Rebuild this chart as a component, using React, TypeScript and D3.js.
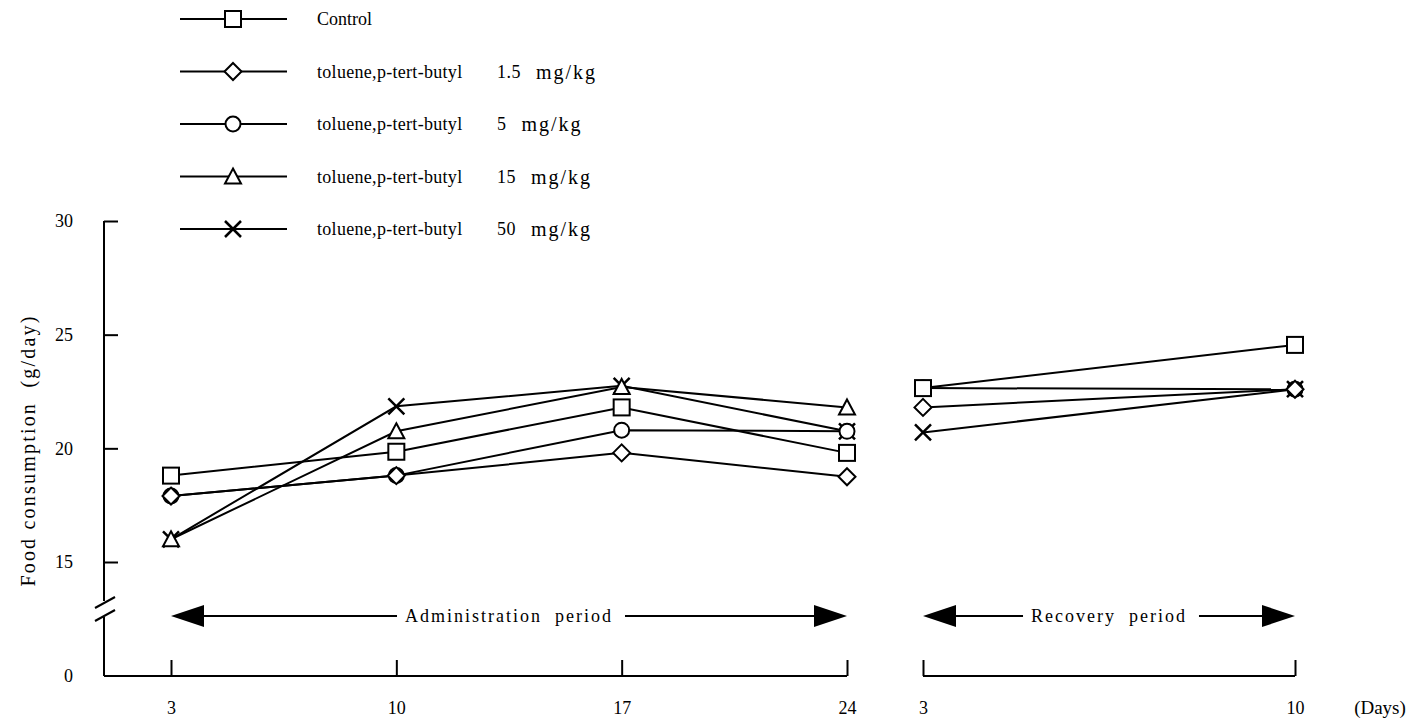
import * as d3 from "d3";
import { useEffect, useRef } from "react";

// days of each period
const adminDays = [3, 10, 17, 24];
const recoveryDays = [3, 10];
const yTicks = [15, 20, 25, 30];

// food consumption (g/day)
const controlAdmin = [18.8, 19.85, 21.8, 19.8];
const dose15Admin = [17.9, 18.8, 19.8, 18.75];
const dose5Admin = [17.9, 18.8, 20.8, 20.75];
const dose15mgAdmin = [16.0, 20.75, 22.7, 21.8];
const dose50Admin = [16.0, 21.85, 22.75, 20.75];

const controlRecovery = [22.65, 24.55];
const dose15Recovery = [21.8, 22.6];
const dose5Recovery = [22.65, 22.6];
const dose50Recovery = [20.7, 22.6];

const groupNames = ["Control", "toluene,p-tert-butyl", "toluene,p-tert-butyl", "toluene,p-tert-butyl", "toluene,p-tert-butyl"];
const groupDoses = ["", "1.5", "5", "15", "50"];
const groupSymbols = ["square", "diamond", "circle", "triangle", "cross"];

const W = 1413;
const H = 728;
const FONT = "'Liberation Serif', 'Times New Roman', serif";

function drawSymbol(g: any, type: string, cx: number, cy: number) {
  const s = g.append("g").attr("transform", `translate(${cx},${cy})`)
    .attr("fill", "#fff").attr("stroke", "#000").attr("stroke-width", 2);
  if (type === "square") {
    s.append("rect").attr("x", -8).attr("y", -8).attr("width", 16).attr("height", 16);
  } else if (type === "diamond") {
    s.append("path").attr("d", "M0,-8.5L8.5,0L0,8.5L-8.5,0Z");
  } else if (type === "circle") {
    s.append("circle").attr("r", 7.5);
  } else if (type === "triangle") {
    s.append("path").attr("d", "M0,-8L8,7L-8,7Z");
  } else {
    s.append("path").attr("d", "M-8,-8L8,8M8,-8L-8,8").attr("stroke-width", 2.5);
  }
}

export default function App() {
  const ref = useRef<SVGSVGElement>(null);

  useEffect(() => {
    const svg = d3.select(ref.current);
    svg.selectAll("*").remove();

    const admin = [controlAdmin, dose15Admin, dose5Admin, dose15mgAdmin, dose50Admin];
    const recovery = [controlRecovery, dose15Recovery, dose5Recovery, null, dose50Recovery];

    const axisX = 104;
    const yZero = 676;
    const xA = d3.scaleLinear().domain([3, 24]).range([171, 847]);
    const xR = d3.scaleLinear().domain([3, 10]).range([923, 1295]);
    const y = d3.scaleLinear().domain([15, 30]).range([562, 221]);

    // y axis with break
    const yAxis = svg.append("g").attr("transform", `translate(${axisX},0)`)
      .call(d3.axisLeft(y).tickValues(yTicks).tickSize(-14).tickSizeOuter(0).tickPadding(31));
    yAxis.select(".domain").remove();
    yAxis.selectAll("line").attr("stroke", "#000").attr("stroke-width", 2);
    yAxis.selectAll("text").attr("font-family", FONT).attr("font-size", 18).attr("fill", "#000");

    const ax = svg.append("g").attr("stroke", "#000").attr("stroke-width", 2).attr("fill", "none");
    ax.append("line").attr("x1", axisX).attr("x2", axisX).attr("y1", y(30)).attr("y2", 601);
    ax.append("line").attr("x1", axisX).attr("x2", axisX).attr("y1", 617).attr("y2", yZero);
    ax.append("line").attr("x1", axisX - 9).attr("x2", axisX + 11).attr("y1", 608).attr("y2", 597);
    ax.append("line").attr("x1", axisX - 9).attr("x2", axisX + 11).attr("y1", 621).attr("y2", 610);
    svg.append("text").attr("x", axisX - 31).attr("y", yZero).attr("dy", "0.32em")
      .attr("text-anchor", "end").attr("font-family", FONT).attr("font-size", 18).text("0");

    // x axes
    ax.append("line").attr("x1", axisX).attr("x2", xA(24)).attr("y1", yZero).attr("y2", yZero);
    ax.append("line").attr("x1", xR(3)).attr("x2", xR(10)).attr("y1", yZero).attr("y2", yZero);
    const styleX = (g: any) => {
      g.select(".domain").remove();
      g.selectAll("line").attr("stroke", "#000").attr("stroke-width", 2);
      g.selectAll("text").attr("font-family", FONT).attr("font-size", 18).attr("fill", "#000");
    };
    svg.append("g").attr("transform", `translate(0,${yZero})`)
      .call(d3.axisBottom(xA).tickValues(adminDays).tickFormat(d3.format("d")).tickSize(-16).tickSizeOuter(0).tickPadding(25))
      .call(styleX);
    svg.append("g").attr("transform", `translate(0,${yZero})`)
      .call(d3.axisBottom(xR).tickValues(recoveryDays).tickFormat(d3.format("d")).tickSize(-16).tickSizeOuter(0).tickPadding(25))
      .call(styleX);
    svg.append("text").attr("x", 1380).attr("y", yZero + 25).attr("dy", "0.71em")
      .attr("text-anchor", "middle").attr("font-family", FONT).attr("font-size", 19).text("(Days)");

    // y label
    svg.append("text").attr("transform", `translate(35,${(y(30) + 680) / 2}) rotate(-90)`)
      .attr("text-anchor", "middle").attr("font-family", FONT).attr("font-size", 20)
      .attr("letter-spacing", 2.2).style("white-space", "pre").text("Food consumption  (g/day)");

    // period arrows
    const period = (x0: number, x1: number, label: string) => {
      const py = 616;
      const g = svg.append("g");
      const t = g.append("text").attr("x", (x0 + x1) / 2).attr("y", py).attr("dy", "0.35em")
        .attr("text-anchor", "middle").attr("font-family", FONT).attr("font-size", 18)
        .attr("letter-spacing", 2).style("white-space", "pre").text(label);
      const tw = (t.node() as SVGTextElement).getComputedTextLength();
      const cx = (x0 + x1) / 2;
      g.append("path").attr("d", `M${x0},${py}L${x0 + 33},${py - 11}L${x0 + 33},${py + 11}Z`).attr("fill", "#000");
      g.append("path").attr("d", `M${x1},${py}L${x1 - 33},${py - 11}L${x1 - 33},${py + 11}Z`).attr("fill", "#000");
      g.append("line").attr("x1", x0 + 30).attr("x2", cx - tw / 2 - 8).attr("y1", py).attr("y2", py)
        .attr("stroke", "#000").attr("stroke-width", 2);
      g.append("line").attr("x1", cx + tw / 2 + 12).attr("x2", x1 - 30).attr("y1", py).attr("y2", py)
        .attr("stroke", "#000").attr("stroke-width", 2);
    };
    period(xA(3), xA(24), "Administration  period");
    period(xR(3), xR(10), "Recovery  period");

    // lines
    const line = (xs: any) => d3.line<number>().x((d, i) => xs(i)).y(d => y(d));
    const lg = svg.append("g").attr("fill", "none").attr("stroke", "#000").attr("stroke-width", 2);
    admin.forEach(vals => {
      lg.append("path").attr("d", line((i: number) => xA(adminDays[i]))(vals));
    });
    recovery.forEach(vals => {
      if (vals) lg.append("path").attr("d", line((i: number) => xR(recoveryDays[i]))(vals));
    });

    // markers
    const mg = svg.append("g");
    [4, 2, 1, 3, 0].forEach(k => {
      admin[k].forEach((v, i) => drawSymbol(mg, groupSymbols[k], xA(adminDays[i]), y(v)));
      const r = recovery[k];
      if (r) r.forEach((v, i) => drawSymbol(mg, groupSymbols[k], xR(recoveryDays[i]), y(v)));
    });

    // legend
    const leg = svg.append("g");
    groupNames.forEach((name, i) => {
      const ly = 19 + i * 52.5;
      leg.append("line").attr("x1", 180).attr("x2", 287).attr("y1", ly).attr("y2", ly)
        .attr("stroke", "#000").attr("stroke-width", 1.8);
      drawSymbol(leg, groupSymbols[i], 233, ly);
      leg.append("text").attr("x", 317).attr("y", ly).attr("dy", "0.35em")
        .attr("font-family", FONT).attr("font-size", 18).attr("letter-spacing", i ? 0.3 : 0).text(name);
      if (groupDoses[i]) {
        const dt = leg.append("text").attr("x", 497).attr("y", ly).attr("dy", "0.35em")
          .attr("font-family", FONT).attr("font-size", 18).attr("letter-spacing", 0.5).text(groupDoses[i]);
        const dw = (dt.node() as SVGTextElement).getComputedTextLength();
        leg.append("text").attr("x", 497 + dw + 15).attr("y", ly).attr("dy", "0.35em")
          .attr("font-family", FONT).attr("font-size", 20).attr("letter-spacing", 2).text("mg/kg");
      }
    });
  }, []);

  return (
    <svg ref={ref} width={W} height={H}
      style={{ position: "absolute", left: 0, top: 0, background: "#fff" }} />
  );
}
